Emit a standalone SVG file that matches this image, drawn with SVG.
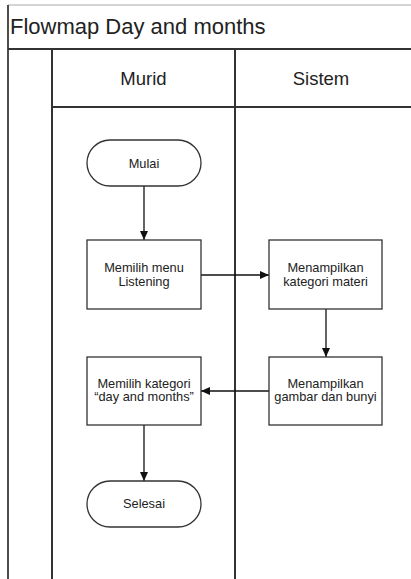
<svg xmlns="http://www.w3.org/2000/svg" width="411" height="579" viewBox="0 0 411 579">
<style>
.t{font-family:"Liberation Sans",Arial,sans-serif;fill:#222}
.b{font-size:12.8px;text-anchor:middle}
.shape{fill:#fff;stroke:#333;stroke-width:1.3}
.lane{stroke:#333;stroke-width:2;fill:none}
.edge{stroke:#111;stroke-width:1.3;fill:none;marker-end:url(#ah)}
</style>
<defs>
<marker id="ah" markerWidth="10" markerHeight="8" refX="9" refY="4" orient="auto" markerUnits="userSpaceOnUse">
<path d="M0,0 L9,4 L0,8 Z" fill="#111"/>
</marker>
</defs>
<rect x="0" y="0" width="411" height="579" fill="#fff"/>
<g id="frame">
<line x1="8" y1="5" x2="411" y2="5" stroke="#aaa" stroke-width="1.2"/>
<line x1="8" y1="5" x2="8" y2="579" stroke="#222" stroke-width="1.6"/>
<line x1="8" y1="49" x2="411" y2="49" class="lane"/>
<line x1="52" y1="49" x2="52" y2="579" class="lane" stroke="#555"/>
<line x1="235" y1="49" x2="235" y2="579" class="lane"/>
<line x1="52" y1="107" x2="411" y2="107" class="lane"/>
<text x="10" y="34" class="t" font-size="22">Flowmap Day and months</text>
<text x="143.5" y="85" class="t" font-size="18.5" text-anchor="middle">Murid</text>
<text x="321" y="85" class="t" font-size="18.5" text-anchor="middle">Sistem</text>
</g>
<g id="connectors">
<line x1="144" y1="186" x2="144" y2="240" class="edge"/>
<line x1="201" y1="275" x2="269" y2="275" class="edge"/>
<line x1="326" y1="309" x2="326" y2="357" class="edge"/>
<line x1="269" y1="391" x2="201" y2="391" class="edge"/>
<line x1="144" y1="425" x2="144" y2="481" class="edge"/>
</g>
<g id="mulai">
<rect x="87" y="140" width="114" height="46" rx="23" class="shape"/>
<text x="144" y="167.5" class="t b">Mulai</text>
</g>
<g id="memilih-menu">
<rect x="87" y="240" width="114" height="69" class="shape"/>
<text x="144" y="272" class="t b">Memilih menu</text>
<text x="144" y="286" class="t b">Listening</text>
</g>
<g id="kategori-materi">
<rect x="269" y="240" width="113" height="69" class="shape"/>
<text x="325.5" y="272" class="t b">Menampilkan</text>
<text x="325.5" y="286" class="t b">kategori materi</text>
</g>
<g id="gambar-bunyi">
<rect x="269" y="357" width="113" height="68" class="shape"/>
<text x="325.5" y="387.5" class="t b">Menampilkan</text>
<text x="325.5" y="401" class="t b">gambar dan bunyi</text>
</g>
<g id="memilih-kategori">
<rect x="87" y="357" width="114" height="68" class="shape"/>
<text x="144" y="387.5" class="t b">Memilih kategori</text>
<text x="144" y="401" class="t b">“day and months”</text>
</g>
<g id="selesai">
<rect x="87" y="481" width="114" height="46" rx="23" class="shape"/>
<text x="144" y="508" class="t b">Selesai</text>
</g>
</svg>
